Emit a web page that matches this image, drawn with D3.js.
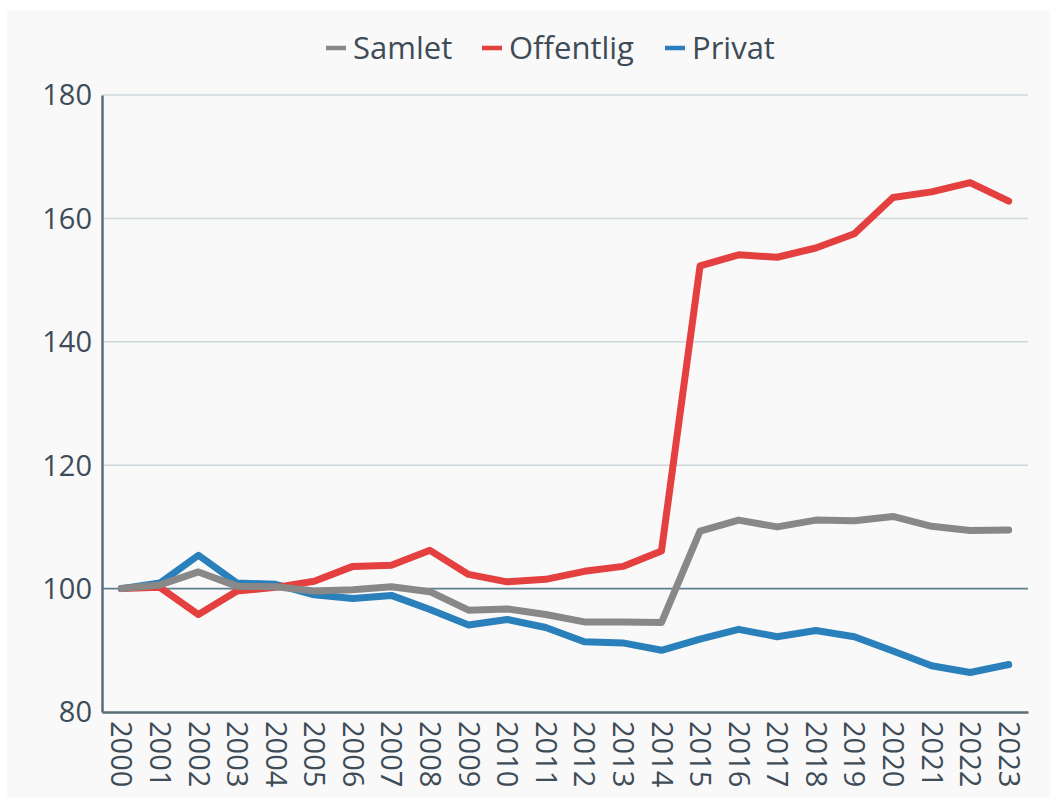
<!DOCTYPE html>
<html><head><meta charset="utf-8">
<script src="https://cdn.jsdelivr.net/npm/d3@7"></script>
<style>
html,body{margin:0;padding:0;background:#ffffff;}
svg{display:block;font-family:"Open Sans",sans-serif;}
</style></head>
<body>
<svg id="chart" width="1057" height="800"></svg>
<script>
const years = ["2000","2001","2002","2003","2004","2005","2006","2007","2008","2009","2010","2011","2012","2013","2014","2015","2016","2017","2018","2019","2020","2021","2022","2023"];
const samlet = [100,100.6,102.7,100.4,100.3,99.6,99.8,100.3,99.5,96.5,96.7,95.8,94.6,94.6,94.5,109.3,111.1,110.0,111.1,111.0,111.7,110.1,109.4,109.5];
const offentlig = [100,100.2,95.8,99.6,100.2,101.2,103.6,103.8,106.2,102.3,101.1,101.5,102.8,103.6,106.1,152.3,154.1,153.7,155.2,157.5,163.4,164.3,165.8,162.8];
const privat = [100,100.9,105.4,100.9,100.7,99.0,98.4,98.9,96.6,94.1,95.0,93.7,91.4,91.2,90.0,91.8,93.4,92.2,93.2,92.2,89.9,87.5,86.4,87.7];
const seriesNames = ["Samlet","Offentlig","Privat"];
const seriesColors = ["#888888","#e4403f","#2a80ba"];
const yTicks = [80,100,120,140,160,180];

(function(){
const svg = d3.select("#chart");
svg.append("rect").attr("x",7).attr("y",10).attr("width",1043).attr("height",788).attr("fill","#f9f9f9");

const mLeft=102, mRight=1028, mTop=95, mBottom=712;
const x = d3.scalePoint().domain(years).range([mLeft,mRight]).padding(0.5);
const y = d3.scaleLinear().domain([80,180]).range([mBottom,mTop]);

const textColor = "#3e4c57";
const fs = 29;

// grid
svg.append("g").selectAll("line").data(yTicks.filter(t=>t!==80 && t!==100)).join("line")
  .attr("x1",mLeft).attr("x2",mRight).attr("y1",d=>y(d)).attr("y2",d=>y(d))
  .attr("stroke","#cdd8dc").attr("stroke-width",1.5);
svg.append("line").attr("x1",mLeft).attr("x2",mRight).attr("y1",y(100)).attr("y2",y(100))
  .attr("stroke","#5f7e8d").attr("stroke-width",1.8);

// y axis
const yAxis = svg.append("g").attr("transform",`translate(${mLeft},0)`)
  .call(d3.axisLeft(y).tickValues(yTicks).tickSize(0).tickPadding(10));
yAxis.select(".domain").attr("stroke","#5a6d77").attr("stroke-width",2.5);
yAxis.selectAll("text").attr("font-size",fs).attr("fill",textColor).attr("font-family","Open Sans").attr("dy","0.34em");

// x axis
const xAxis = svg.append("g").attr("transform",`translate(0,${mBottom})`)
  .call(d3.axisBottom(x).tickSize(0).tickSizeOuter(0));
xAxis.select(".domain").attr("stroke","#5a6d77").attr("stroke-width",2.5);
xAxis.selectAll("text").attr("font-size",fs).attr("fill",textColor).attr("font-family","Open Sans")
  .attr("text-anchor","start").attr("transform","rotate(90)").attr("x",9).attr("y",0).attr("dy","0.36em");

// lines
const data = [samlet, offentlig, privat];
const line = d3.line().x((d,i)=>x(years[i])).y(d=>y(d));
const drawOrder = [2,1,0];
svg.append("g").selectAll("path").data(drawOrder).join("path")
  .attr("d",k=>line(data[k])).attr("fill","none").attr("stroke",k=>seriesColors[k])
  .attr("stroke-width",7).attr("stroke-linejoin","round").attr("stroke-linecap","round");

// legend
const legendX = [326,482,665];
const lg = svg.append("g");
seriesNames.forEach((n,i)=>{
  lg.append("line").attr("x1",legendX[i]).attr("x2",legendX[i]+20).attr("y1",48).attr("y2",48)
    .attr("stroke",seriesColors[i]).attr("stroke-width",4.5);
  lg.append("text").attr("x",legendX[i]+27).attr("y",48).attr("dy","0.36em")
    .attr("font-size",31).attr("fill",textColor).text(n);
});
})();
</script>
</body></html>
